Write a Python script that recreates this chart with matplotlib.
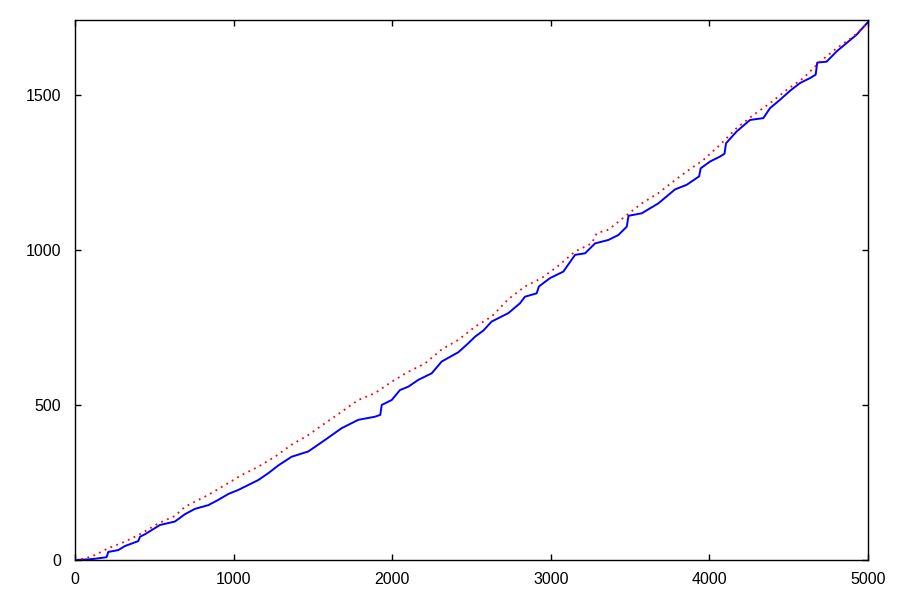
import matplotlib
matplotlib.use("Agg")
import matplotlib.pyplot as plt

# blue curve (solid, step-like)
x_azul = [0, 84, 126, 199, 210, 273, 315, 399, 410, 441, 536, 630, 694, 757, 841,
          904, 967, 1030, 1093, 1156, 1219, 1282, 1366, 1471, 1576, 1681, 1786, 1891,
          1925, 1934, 1997, 2049, 2102, 2165, 2249, 2312, 2417, 2480, 2522, 2575, 2627,
          2732, 2806, 2837, 2911, 2925, 2995, 3079, 3153, 3216, 3279, 3363, 3426, 3479,
          3490, 3573, 3678, 3783, 3857, 3935, 3945, 4004, 4067, 4095, 4105, 4172, 4256,
          4340, 4382, 4445, 4508, 4571, 4634, 4670, 4680, 4739, 4802, 4865, 4928, 5000]
y_azul = [0, 2, 4, 9, 26, 32, 45, 61, 75, 83, 113, 124, 148, 165, 177,
          194, 213, 226, 242, 258, 280, 305, 333, 350, 387, 425, 452, 462,
          468, 500, 516, 548, 559, 581, 602, 640, 670, 699, 720, 740, 769,
          796, 828, 849, 860, 882, 909, 930, 984, 989, 1021, 1032, 1048, 1075,
          1110, 1118, 1150, 1195, 1210, 1237, 1263, 1285, 1301, 1310, 1344, 1382, 1419,
          1425, 1457, 1484, 1513, 1538, 1554, 1565, 1604, 1607, 1640, 1667, 1694, 1735]

# red curve (dotted)
x_verm = [0, 63, 126, 210, 315, 420, 525, 630, 694, 841, 946, 1051, 1156, 1261, 1366,
          1471, 1576, 1681, 1786, 1891, 1997, 2102, 2207, 2312, 2417, 2522, 2627, 2732,
          2837, 2942, 3048, 3153, 3258, 3290, 3363, 3468, 3573, 3678, 3783, 3857, 3962,
          4067, 4172, 4277, 4382, 4487, 4592, 4697, 4802, 4907, 5000]
y_verm = [0, 5, 16, 38, 59, 86, 118, 142, 172, 210, 242, 274, 301, 333, 372,
          403, 441, 478, 516, 538, 575, 607, 634, 679, 710, 752, 785, 841,
          882, 909, 949, 995, 1021, 1054, 1065, 1108, 1150, 1183, 1225, 1253, 1290,
          1339, 1393, 1435, 1473, 1516, 1554, 1607, 1650, 1688, 1732]

xticks = [0, 1000, 2000, 3000, 4000, 5000]
yticks = [0, 500, 1000, 1500]

plt.rcParams['font.family'] = ['Liberation Sans', 'DejaVu Sans']

fig = plt.figure(figsize=(9, 6), dpi=100)
ax = fig.add_axes([75 / 900, 40 / 600, 793 / 900, 540.5 / 600])

ax.plot(x_azul, y_azul, color='#0000ff', lw=1.4)
ax.plot(x_verm, y_verm, color='#ff0000', lw=1.3, linestyle=(0, (1, 2.5)))

ax.set_xlim(0, 5000)
ax.set_ylim(0, 1743)
ax.set_xticks(xticks)
ax.set_yticks(yticks)
ax.tick_params(axis='both', direction='in', length=4.5, width=1, labelsize=11.5,
               top=True, right=True)
ax.tick_params(axis='x', pad=9)
ax.tick_params(axis='y', pad=10)
for s in ax.spines.values():
    s.set_linewidth(1)

fig.savefig('out.png', dpi=100)
